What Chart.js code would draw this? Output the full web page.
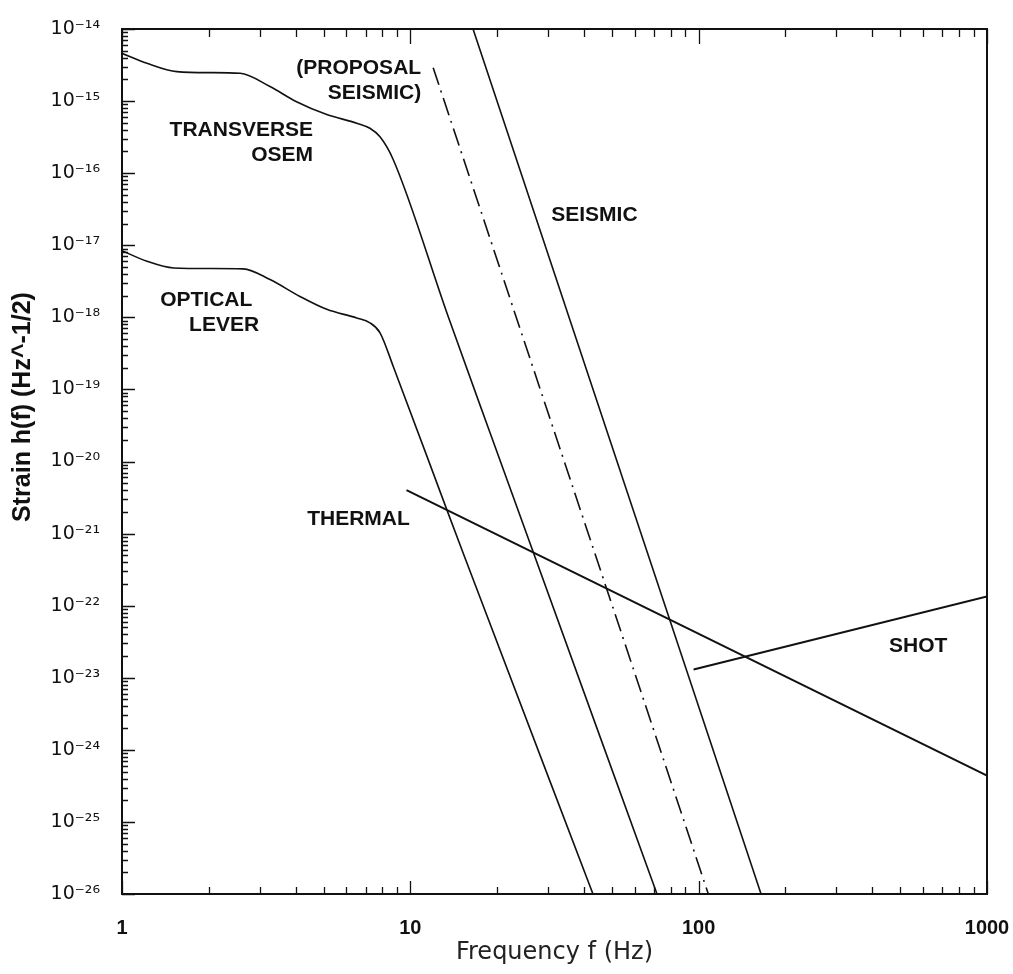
<!DOCTYPE html>
<html>
<head>
<meta charset="utf-8">
<title>Strain noise budget</title>
<script src="https://cdn.jsdelivr.net/npm/chart.js@4.4.1/dist/chart.umd.min.js"></script>
<style>
  html, body { margin: 0; padding: 0; background: #ffffff; }
  #wrap { width: 1013px; height: 974px; }
</style>
</head>
<body>
<div id="wrap"><canvas id="strain-chart" width="1013" height="974"></canvas></div>
<script>
'use strict';

// ─── Values ──────────────────────────────────────────────────────────────────
// Frequencies in Hz, strain in Hz^-1/2.

const osemFreq     = [1, 1.22, 1.55, 2.02, 2.57, 3.26, 4.03, 5.13, 6.52, 7.24, 7.85, 8.72, 13.5, 18.9, 71.7];
const osemStrain   = [4.6e-15, 3.35e-15, 2.56e-15, 2.48e-15, 2.43e-15, 1.59e-15, 9.8e-16, 6.5e-16,
                      4.94e-16, 4.2e-16, 3.2e-16, 1.55e-16, 1.05e-18, 2.5e-20, 1e-26];

const leverFreq    = [1, 1.22, 1.51, 2.02, 2.63, 3.26, 4.14, 5.13, 6.52, 7.24, 7.85, 8.72, 13.35, 15.5, 43];
const leverStrain  = [8.4e-18, 6.0e-18, 4.84e-18, 4.75e-18, 4.7e-18, 3.34e-18, 1.95e-18, 1.29e-18,
                      9.8e-19, 8.4e-19, 6.1e-19, 2.1e-19, 2.2e-21, 4.5e-22, 1e-26];

const proposalFreq   = [12.0, 108];
const proposalStrain = [2.9e-15, 1e-26];

const seismicFreq    = [16.5, 164.6];
const seismicStrain  = [1e-14, 1e-26];

const thermalFreq    = [9.7, 1000];
const thermalStrain  = [4.0e-21, 4.4e-25];

const shotFreq       = [96, 1000];
const shotStrain     = [1.3e-23, 1.34e-22];

// Axis ticks
const xDecades   = [1, 10, 100, 1000];
const yExponents = [-26, -25, -24, -23, -22, -21, -20, -19, -18, -17, -16, -15, -14];
const minorSteps = [2, 3, 4, 5, 6, 7, 8, 9];

// Curve annotations: text, frequency, strain, alignment
const curveLabels = [
  ['(PROPOSAL',  10.9, 2.9e-15,  'right'],
  ['SEISMIC)',   10.9, 1.29e-15, 'right'],
  ['TRANSVERSE', 4.6,  3.9e-16,  'right'],
  ['OSEM',       4.6,  1.78e-16, 'right'],
  ['OPTICAL',    1.96, 1.74e-18, 'center'],
  ['LEVER',      2.26, 7.9e-19,  'center'],
  ['THERMAL',    6.61, 1.58e-21, 'center'],
  ['SEISMIC',    43.5, 2.63e-17, 'center'],
  ['SHOT',       577,  2.7e-23,  'center'],
];

const yTitle       = 'Strain h(f) (Hz^-1/2)';
const yTitleCentre = 5.7e-20;   // strain level the rotated title is centred on

const INK = '#111111';
const SUPERSCRIPT = { '-': '\u207B', '0': '\u2070', '1': '\u00B9', '2': '\u00B2', '3': '\u00B3',
  '4': '\u2074', '5': '\u2075', '6': '\u2076', '7': '\u2077', '8': '\u2078', '9': '\u2079' };

function toPoints(freqs, strains) {
  return freqs.map((f, i) => ({ x: f, y: strains[i] }));
}

function powerLabel(value) {
  const exp = String(Math.round(Math.log10(value)));
  return '10' + exp.split('').map(c => SUPERSCRIPT[c]).join('');
}

function lineSet(label, freqs, strains, width, extra = {}) {
  return Object.assign({
    label,
    data:        toPoints(freqs, strains),
    borderColor: INK,
    borderWidth: width,
    pointRadius: 0,
    fill:        false,
    tension:     0,
  }, extra);
}

// ─── Frame, inward ticks and annotations ─────────────────────────────────────
const framePlugin = {
  id: 'frameAndTicks',
  afterDraw(chart) {
    const { ctx, chartArea: { left, right, top, bottom }, scales: { x, y } } = chart;
    ctx.save();
    ctx.strokeStyle = INK;
    ctx.lineWidth = 2;
    ctx.strokeRect(left, top, right - left, bottom - top);

    ctx.lineWidth = 1.3;
    ctx.beginPath();
    // x ticks, bottom and top edges
    for (const d of xDecades) {
      for (const m of [1, ...minorSteps]) {
        const v = d * m;
        if (v > 1000) break;
        const px = Math.round(x.getPixelForValue(v)) + 0.5;
        const major = m === 1;
        ctx.moveTo(px, bottom);
        ctx.lineTo(px, bottom - (major ? 13 : 7));
        ctx.moveTo(px, top);
        ctx.lineTo(px, top + (major ? 15 : 8));
      }
    }
    // y ticks, left edge only
    for (const e of yExponents) {
      for (const m of [1, ...minorSteps]) {
        if (e === -14 && m > 1) break;
        const py = Math.round(y.getPixelForValue(m * Math.pow(10, e))) + 0.5;
        ctx.moveTo(left, py);
        ctx.lineTo(left + (m === 1 ? 13 : 6), py);
      }
    }
    ctx.stroke();

    // curve annotations
    ctx.fillStyle = INK;
    ctx.font = 'bold 21px "Liberation Sans", Arial, sans-serif';
    ctx.textBaseline = 'middle';
    for (const [text, f, h, align] of curveLabels) {
      ctx.textAlign = align;
      ctx.fillText(text, x.getPixelForValue(f), y.getPixelForValue(h));
    }

    // rotated y-axis title, sits above the middle of the axis in the original
    ctx.translate(23, y.getPixelForValue(yTitleCentre));
    ctx.rotate(-Math.PI / 2);
    ctx.textAlign = 'center';
    ctx.font = 'bold 25px "Liberation Sans", Arial, sans-serif';
    ctx.fillText(yTitle, 0, 0);
    ctx.restore();
  },
};

// ─── Chart ───────────────────────────────────────────────────────────────────
const ctx = document.getElementById('strain-chart').getContext('2d');
new Chart(ctx, {
  type: 'line',
  data: {
    datasets: [
      lineSet('Transverse OSEM', osemFreq, osemStrain, 1.6, { cubicInterpolationMode: 'monotone' }),
      lineSet('Optical lever', leverFreq, leverStrain, 1.6, { cubicInterpolationMode: 'monotone' }),
      lineSet('Proposal seismic', proposalFreq, proposalStrain, 1.6, { borderDash: [18, 6, 2, 6] }),
      lineSet('Seismic', seismicFreq, seismicStrain, 1.6),
      lineSet('Thermal', thermalFreq, thermalStrain, 2),
      lineSet('Shot', shotFreq, shotStrain, 2),
    ],
  },
  options: {
    responsive: false,
    animation:  false,
    layout: { padding: { left: 0, right: 26, top: 29, bottom: 0 } },
    plugins: {
      legend:  { display: false },
      tooltip: { enabled: false },
    },
    scales: {
      x: {
        type: 'logarithmic',
        min:  1,
        max:  1000,
        afterBuildTicks: (scale) => { scale.ticks = xDecades.map(v => ({ value: v })); },
        // fixed band height; drop the label overhang so the plot reaches x=987
        afterFit: (scale) => { scale.height = 80; scale.paddingLeft = 0; scale.paddingRight = 0; },
        grid:   { display: false },
        border: { display: false },
        ticks: {
          color: INK,
          font: { family: '"Liberation Sans", Arial, sans-serif', size: 20, weight: 'bold' },
          padding: 14,
          maxRotation: 0,
          autoSkip: false,
          callback: (v) => String(v),
        },
        title: {
          display: true,
          text: 'Frequency f (Hz)',
          color: '#222222',
          font: { family: '"DejaVu Sans", sans-serif', size: 24 },
          padding: { top: 0, bottom: 7 },
        },
      },
      y: {
        type: 'logarithmic',
        min:  1e-26,
        max:  1e-14,
        afterBuildTicks: (scale) => { scale.ticks = yExponents.map(e => ({ value: Math.pow(10, e) })); },
        afterFit: (scale) => { scale.width = 122; scale.paddingTop = 0; scale.paddingBottom = 0; },
        grid:   { display: false },
        border: { display: false },
        ticks: {
          color: INK,
          font: { family: '"DejaVu Sans", sans-serif', size: 19 },
          padding: 14,
          autoSkip: false,
          callback: (v) => powerLabel(v),
        },
      },
    },
  },
  plugins: [framePlugin],
});
</script>
</body>
</html>
